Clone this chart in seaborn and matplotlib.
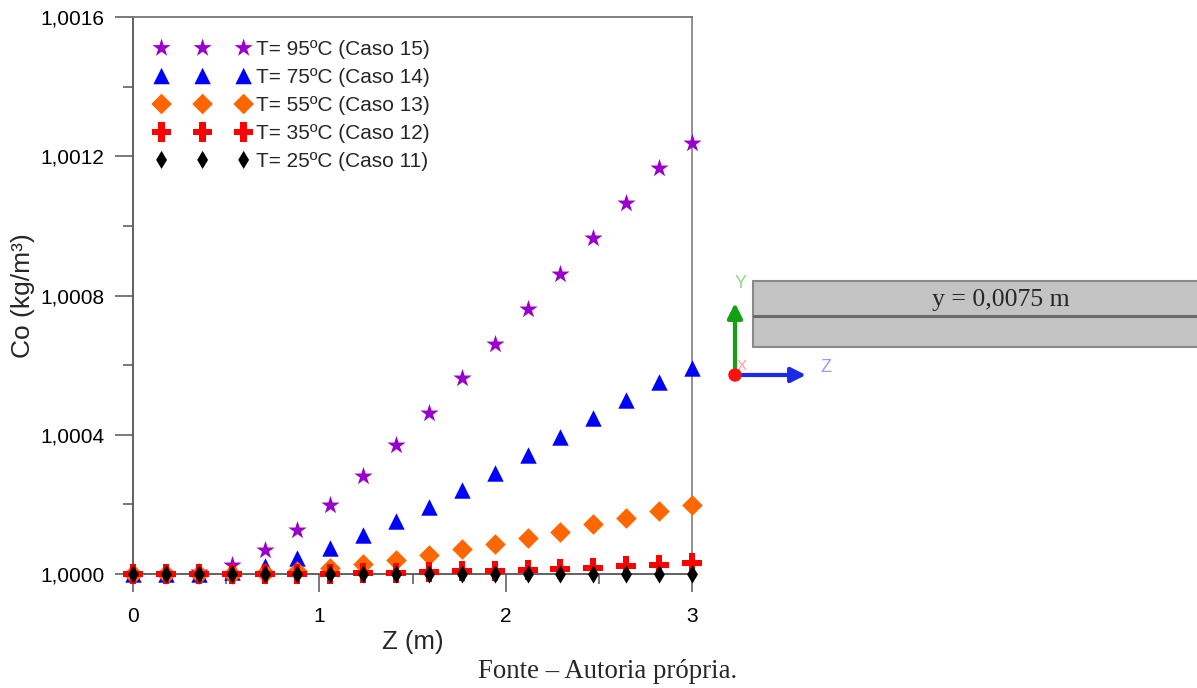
import matplotlib
matplotlib.use("Agg")
import matplotlib.pyplot as plt
import matplotlib.ticker as mticker
from matplotlib.patches import Rectangle, Circle
import pandas as pd
import seaborn as sns

# Axial position along the channel (m)
z = [0.000, 0.176, 0.353, 0.529, 0.706, 0.882, 1.059, 1.235, 1.412,
     1.588, 1.765, 1.941, 2.118, 2.294, 2.471, 2.647, 2.824, 3.000]

# Oil concentration Co (kg/m3) for each temperature case
co_95 = [1.000000, 1.000000, 1.000006, 1.000026, 1.000069, 1.000126,
         1.000198, 1.000282, 1.000371, 1.000463, 1.000562, 1.000661,
         1.000761, 1.000862, 1.000964, 1.001065, 1.001165, 1.001237]
co_75 = [1.000000, 1.000000, 1.000000, 1.000006, 1.000023, 1.000046,
         1.000075, 1.000112, 1.000152, 1.000192, 1.000241, 1.000291,
         1.000342, 1.000394, 1.000447, 1.000500, 1.000552, 1.000591]
co_55 = [1.000000, 1.000000, 1.000000, 1.000000, 1.000003, 1.000009,
         1.000017, 1.000029, 1.000040, 1.000055, 1.000072, 1.000086,
         1.000103, 1.000121, 1.000144, 1.000161, 1.000181, 1.000198]
co_35 = [1.000000, 1.000000, 1.000000, 1.000000, 1.000000, 1.000000,
         1.000001, 1.000002, 1.000004, 1.000006, 1.000008, 1.000010,
         1.000011, 1.000014, 1.000017, 1.000023, 1.000026, 1.000032]
co_25 = [1.000000, 1.000000, 1.000000, 1.000000, 1.000000, 1.000000,
         1.000000, 1.000000, 1.000000, 1.000000, 1.000000, 1.000000,
         1.000000, 1.000000, 1.000000, 1.000000, 1.000000, 1.000000]

labels = ["T= 95ºC (Caso 15)", "T= 75ºC (Caso 14)", "T= 55ºC (Caso 13)",
          "T= 35ºC (Caso 12)", "T= 25ºC (Caso 11)"]
series = [co_95, co_75, co_55, co_35, co_25]
colors = ["#9900CC", "#0000FF", "#FF6600", "#FF0000", "#000000"]
markers = ["*", "^", "D", "P", "d"]
sizes = [190, 140, 110, 200, 85]

y_ticks = [1.0000, 1.0004, 1.0008, 1.0012, 1.0016]
x_ticks = [0, 1, 2, 3]

sns.set_style("ticks")
plt.rcParams["font.family"] = ["Liberation Sans", "DejaVu Sans"]

fig = plt.figure(figsize=(11.97, 6.88), dpi=100)
ax = fig.add_axes([133 / 1197, 114 / 688, 559 / 1197, 557 / 688])

for vals, lab, col, mk, sz in zip(series, labels, colors, markers, sizes):
    df = pd.DataFrame({"Z": z, "Co": vals})
    sns.scatterplot(data=df, x="Z", y="Co", ax=ax, marker=mk, color=col,
                    s=sz, linewidth=0, label=lab, clip_on=False, zorder=3)

ax.set_xlim(0, 3)
ax.set_ylim(1.0000, 1.0016)
ax.set_xticks(x_ticks)
ax.set_yticks(y_ticks)
ax.xaxis.set_minor_locator(mticker.MultipleLocator(0.5))
ax.yaxis.set_minor_locator(mticker.MultipleLocator(0.0002))
ax.yaxis.set_major_formatter(
    mticker.FuncFormatter(lambda v, p: f"{v:.4f}".replace(".", ",")))
ax.xaxis.set_major_formatter(mticker.FuncFormatter(lambda v, p: f"{v:g}"))

ax.tick_params(axis="both", which="major", direction="out", length=13,
               width=1.1, color="#555555", labelsize=15, labelcolor="black")
ax.tick_params(axis="x", which="major", pad=11)
ax.tick_params(axis="y", which="major", pad=7.5)
ax.tick_params(axis="both", which="minor", direction="out", length=7,
               width=1.1, color="#555555")

for side in ["left", "right", "top", "bottom"]:
    ax.spines[side].set_visible(True)
    ax.spines[side].set_color("#555555")
    ax.spines[side].set_linewidth(1.3)
ax.spines["right"].set_color("#888888")
ax.spines["top"].set_color("#777777")

ax.set_xlabel("Z (m)", fontsize=18.5, labelpad=3)
ax.set_ylabel("Co (kg/m³)", fontsize=19, labelpad=4)

ax.legend(loc="upper left", bbox_to_anchor=(0.025, 0.973), borderaxespad=0,
          frameon=False, scatterpoints=3, scatteryoffsets=[0.5],
          handlelength=4.54, handletextpad=0.29, labelspacing=0.43,
          fontsize=15)

# Channel sketch with coordinate triad
ov = fig.add_axes([0, 0, 1, 1], facecolor="none")
ov.set_xlim(0, 1197)
ov.set_ylim(688, 0)
ov.axis("off")
ov.add_patch(Rectangle((753, 281), 460, 66, facecolor="#c3c3c3",
                       edgecolor="#8a8a8a", linewidth=1.5, clip_on=False))
ov.plot([754, 1197], [316, 316], color="#6a6a6a", linewidth=2.2)
ov.text(1001, 300, "y = 0,0075 m", ha="center", va="center",
        fontsize=18.5, family=["Liberation Serif", "DejaVu Serif"])
ov.annotate("", xy=(735, 303), xytext=(735, 376),
            arrowprops=dict(arrowstyle="-|>", color="#14a014", lw=3,
                            mutation_scale=22, shrinkA=0, shrinkB=0))
ov.annotate("", xy=(806, 375), xytext=(734, 375),
            arrowprops=dict(arrowstyle="-|>", color="#1a2ae6", lw=3,
                            mutation_scale=22, shrinkA=0, shrinkB=0))
ov.add_patch(Circle((735, 375), 6, color="#ff1010", zorder=5))
ov.text(741, 284, "Y", color="#8ed88e", fontsize=13, ha="center", va="center")
ov.text(826, 367, "Z", color="#9a9aff", fontsize=13, ha="center", va="center")
ov.text(742, 366, "X", color="#ff9a9a", fontsize=11, ha="center", va="center")

fig.text(608 / 1197, 1 - 671 / 688, "Fonte – Autoria própria.",
         ha="center", va="center", fontsize=19.3,
         family=["Liberation Serif", "DejaVu Serif"])

fig.savefig("out.png", dpi=100)
